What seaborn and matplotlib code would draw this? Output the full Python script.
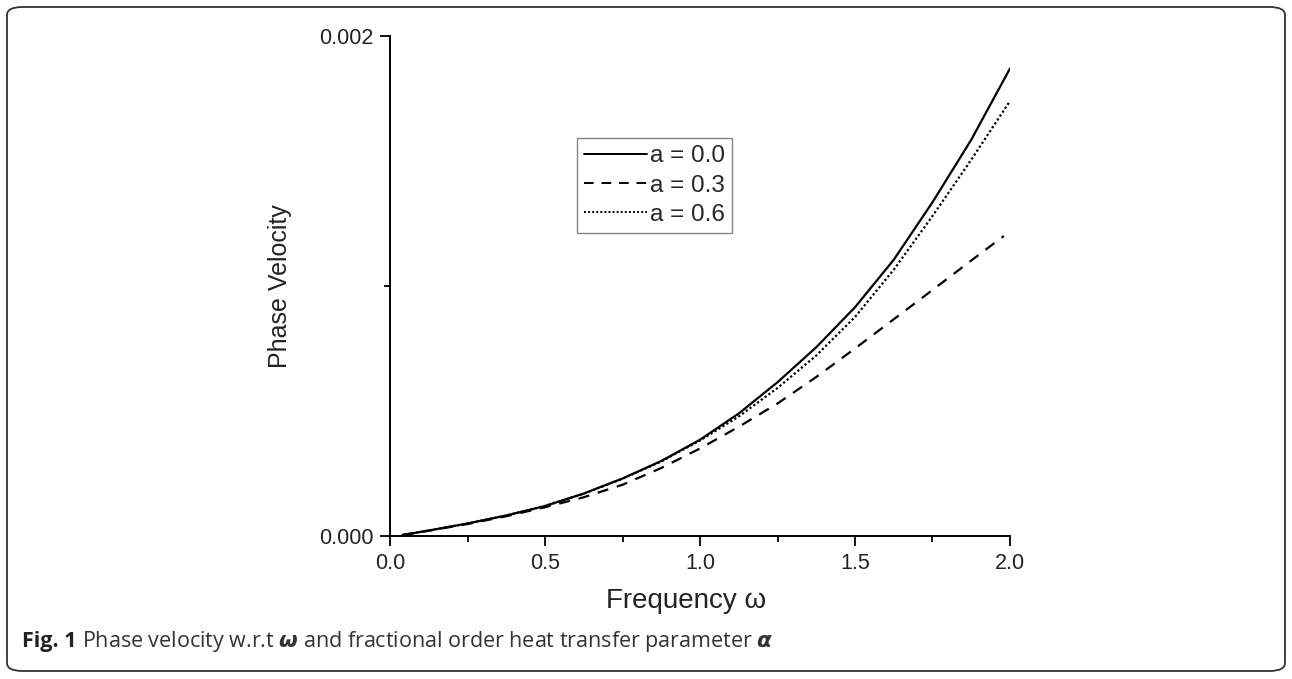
import numpy as np
import pandas as pd
import matplotlib
matplotlib.use("Agg")
import matplotlib.pyplot as plt
from matplotlib.patches import FancyBboxPatch
from matplotlib.ticker import MultipleLocator, FixedLocator
import seaborn as sns

# ---- data ----
omega_a00 = [0.04, 0.125, 0.25, 0.375, 0.5, 0.625, 0.75, 0.875, 1.0, 1.125,
             1.25, 1.375, 1.5, 1.625, 1.75, 1.875, 2.0]
vel_a00 = [0.000004, 0.000022, 0.000050, 0.000082, 0.000120, 0.000170, 0.000230,
           0.000300, 0.000385, 0.000490, 0.000615, 0.000755, 0.000915, 0.001105,
           0.001335, 0.001585, 0.001870]

omega_a03 = [0.04, 0.125, 0.25, 0.375, 0.5, 0.625, 0.75, 0.875, 1.0, 1.125,
             1.25, 1.375, 1.5, 1.625, 1.75, 1.875, 1.98]
vel_a03 = [0.000004, 0.000021, 0.000048, 0.000079, 0.000115, 0.000155, 0.000205,
           0.000272, 0.000350, 0.000437, 0.000530, 0.000636, 0.000750, 0.000867,
           0.000984, 0.001102, 0.001200]

omega_a06 = [0.04, 0.125, 0.25, 0.375, 0.5, 0.625, 0.75, 0.875, 1.0, 1.125,
             1.25, 1.375, 1.5, 1.625, 1.75, 1.875, 2.0]
vel_a06 = [0.000004, 0.000022, 0.000050, 0.000082, 0.000120, 0.000169, 0.000229,
           0.000298, 0.000382, 0.000478, 0.000592, 0.000722, 0.000876, 0.001065,
           0.001280, 0.001505, 0.001740]

labels = ["a = 0.0", "a = 0.3", "a = 0.6"]
x_ticks = [0.0, 0.5, 1.0, 1.5, 2.0]
y_ticks = [0.000, 0.002]
x_label = "Frequency ω"
y_label = "Phase Velocity"

df = pd.concat([
    pd.DataFrame({"omega": omega_a00, "vel": vel_a00, "series": labels[0]}),
    pd.DataFrame({"omega": omega_a03, "vel": vel_a03, "series": labels[1]}),
    pd.DataFrame({"omega": omega_a06, "vel": vel_a06, "series": labels[2]}),
], ignore_index=True)

sns.set_theme(style="ticks")
plt.rcParams["font.family"] = ["Liberation Sans", "DejaVu Sans"]

W, H = 1292, 679
fig = plt.figure(figsize=(W / 100, H / 100), dpi=100)
ax = fig.add_axes([390 / W, 1 - 536 / H, (1010 - 390) / W, (536 - 36) / H])

sns.lineplot(data=df, x="omega", y="vel", hue="series", style="series",
             palette={labels[0]: "black", labels[1]: "black", labels[2]: "black"},
             dashes={labels[0]: "", labels[1]: (5, 4), labels[2]: (1, 1.1)},
             linewidth=1.6, ax=ax, legend=True, sort=True)

ax.set_xlim(0, 2.0)
ax.set_ylim(0, 0.002)
ax.set_xticks(x_ticks)
ax.set_xticklabels([f"{t:.1f}" for t in x_ticks])
ax.set_yticks(y_ticks)
ax.set_yticklabels([f"{t:.3f}" for t in y_ticks])
ax.xaxis.set_minor_locator(MultipleLocator(0.25))
ax.yaxis.set_minor_locator(FixedLocator([0.001]))
ax.tick_params(axis="both", which="major", direction="out", length=7, width=1.3,
               labelsize=15.5, color="black", labelcolor="#222222", pad=5)
ax.tick_params(axis="both", which="minor", direction="out", length=4, width=1.3, color="black")
for side in ["top", "right"]:
    ax.spines[side].set_visible(False)
for side in ["left", "bottom"]:
    ax.spines[side].set_linewidth(1.4)
    ax.spines[side].set_color("black")

ax.set_xlabel(x_label, fontsize=20, color="#222222")
ax.set_ylabel(y_label, fontsize=18, color="#222222")
ax.xaxis.set_label_coords(0.478, -0.13)
ax.yaxis.set_label_coords(-0.177, 0.5)
ax.xaxis.label.set_va("center")
ax.yaxis.label.set_va("center")

leg = ax.legend(loc="upper left", bbox_to_anchor=((577 - 390) / 620, (536 - 138) / 500),
                frameon=True, fancybox=False, fontsize=17.5, handlelength=2.6,
                handletextpad=0.1, borderpad=0.3, labelspacing=0.3, borderaxespad=0)
leg.get_frame().set_edgecolor("#666666")
leg.get_frame().set_linewidth(1.0)
for line in leg.get_lines():
    line.set_linewidth(1.4)

# caption
fig.text(22 / W, 1 - 642 / H, "Fig. 1", fontsize=15.5, fontweight="bold",
         family=["Open Sans", "DejaVu Sans"], va="center", ha="left", color="#222222")
fig.text(82 / W, 1 - 642 / H,
         "Phase velocity w.r.t $\\boldsymbol{\\omega}$ and fractional order heat transfer parameter $\\boldsymbol{\\alpha}$",
         fontsize=15.5, family=["Open Sans", "DejaVu Sans"], va="center", ha="left", color="#333333")

# rounded border
border = FancyBboxPatch((7 / W, 8 / H), (1285 - 7) / W, (672 - 8) / H,
                        boxstyle="round,pad=0,rounding_size=0.012",
                        transform=fig.transFigure, fill=False,
                        edgecolor="#333333", linewidth=1.3)
fig.patches.append(border)

fig.savefig("out.png", dpi=100)
